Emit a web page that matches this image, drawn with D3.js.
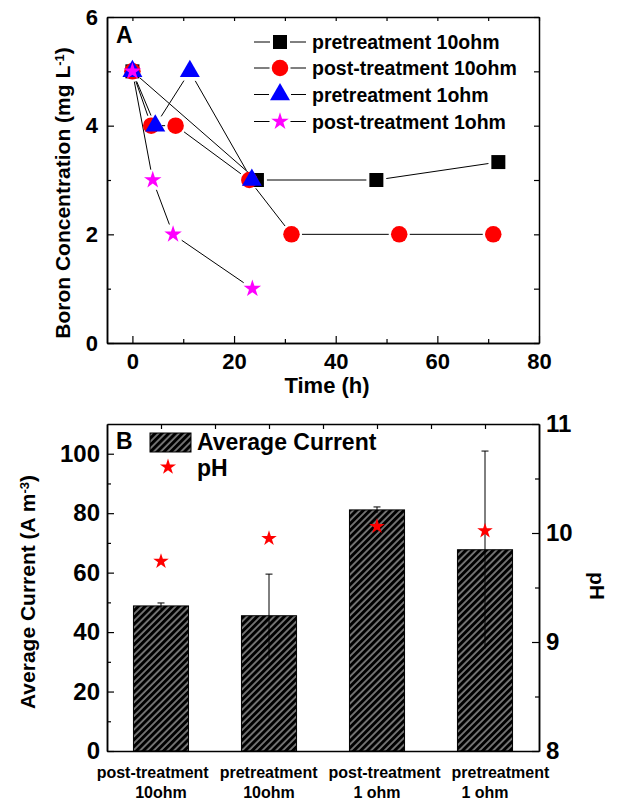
<!DOCTYPE html>
<html>
<head>
<meta charset="utf-8">
<script src="https://cdn.jsdelivr.net/npm/d3@7"></script>
<style>
  body { margin: 0; background: #fff; }
  text { font-family: "Liberation Sans", Arial, sans-serif; font-weight: bold; fill: #000; }
</style>
</head>
<body>
<div id="wrapper"></div>
<script>
// Panel A data: boron concentration over time
const seriesNames = ["pretreatment 10ohm", "post-treatment 10ohm", "pretreatment 1ohm", "post-treatment 1ohm"]
const timePre10 = [0, 24.5, 48, 72]
const boronPre10 = [5, 3, 3, 3.33]
const timePost10 = [0, 3.7, 8.5, 23, 31.3, 52.5, 71]
const boronPost10 = [5, 4, 4, 3, 2, 2, 2]
const timePre1 = [0, 4.5, 11.3, 23.5]
const boronPre1 = [5, 4, 5, 3]
const timePost1 = [0, 4, 8, 23.6]
const boronPost1 = [5, 3, 2, 1]
const timeTicks = [0, 20, 40, 60, 80]
const timeMinorTicks = [10, 30, 50, 70]
const boronTicks = [0, 2, 4, 6]
const boronMinorTicks = [1, 3, 5]

// Panel B data: average current and pH
const categoryLine1 = ["post-treatment", "pretreatment", "post-treatment", "pretreatment"]
const categoryLine2 = ["10ohm", "10ohm", "1 ohm", "1 ohm"]
const avgCurrent = [48.8, 45.5, 81.1, 67.7]
const avgCurrentErr = [1.0, 14, 1.0, 33.2]
const phValues = [9.74, 9.95, 10.06, 10.02]
const currentTicks = [0, 20, 40, 60, 80, 100]
const currentMinorTicks = [10, 30, 50, 70, 90]
const phTicks = [8, 9, 10, 11]
const phMinorTicks = [8.5, 9.5, 10.5]

function drawChart() {

  // 1. Dimensions
  const width = 619
  const height = 802
  const dimA = { left: 107, right: 539, top: 17, bottom: 343 }
  const dimB = { left: 107, right: 539, top: 424, bottom: 751 }
  const fmt = d3.format("d")

  const svg = d3.select("#wrapper")
    .append("svg")
      .attr("width", width)
      .attr("height", height)

  const defs = svg.append("defs")
  const pattern = defs.append("pattern")
      .attr("id", "hatch")
      .attr("patternUnits", "userSpaceOnUse")
      .attr("width", 4.8)
      .attr("height", 4.8)
      .attr("patternTransform", "rotate(45)")
  pattern.append("rect")
      .attr("width", 4.8)
      .attr("height", 4.8)
      .attr("fill", "#000")
  pattern.append("line")
      .attr("x1", 1).attr("y1", 0)
      .attr("x2", 1).attr("y2", 4.8)
      .attr("stroke", "#f2f2f2")
      .attr("stroke-width", 0.9)

  // 2. Panel A scales
  const xA = d3.scaleLinear().domain([-5, 80]).range([dimA.left, dimA.right])
  const yA = d3.scaleLinear().domain([0, 6]).range([dimA.bottom, dimA.top])

  const gA = svg.append("g")

  // 3. Panel A lines and markers
  const seriesA = [
    { t: timePre10, c: boronPre10, sym: d3.symbolSquare, size: 196, color: "#000000", r: 8 },
    { t: timePost10, c: boronPost10, sym: d3.symbolCircle, size: 214, color: "#ff0000", r: 8.5 },
    { t: timePre1, c: boronPre1, sym: d3.symbolTriangle, size: 173, color: "#0000ff", r: 9 },
    { t: timePost1, c: boronPost1, sym: d3.symbolStar, size: 95, color: "#ff00ff", r: 8.5 },
  ]

  function trimmedSegment(p1, p2, g1, g2) {
    const dx = p2[0] - p1[0], dy = p2[1] - p1[1]
    const len = Math.hypot(dx, dy)
    if (len <= g1 + g2) return null
    return [p1[0] + dx * g1 / len, p1[1] + dy * g1 / len, p2[0] - dx * g2 / len, p2[1] - dy * g2 / len]
  }

  seriesA.forEach(s => {
    const pts = s.t.map((t, i) => [xA(t), yA(s.c[i])])
    for (let i = 0; i < pts.length - 1; i++) {
      const seg = trimmedSegment(pts[i], pts[i + 1], s.r + 2, s.r + 2)
      if (!seg) continue
      gA.append("line")
          .attr("x1", seg[0]).attr("y1", seg[1])
          .attr("x2", seg[2]).attr("y2", seg[3])
          .attr("stroke", "#000")
          .attr("stroke-width", 1)
    }
  })

  seriesA.forEach(s => {
    gA.selectAll(null)
      .data(s.t.map((t, i) => [t, s.c[i]]))
      .join("path")
        .attr("d", d3.symbol().type(s.sym).size(s.size))
        .attr("transform", d => `translate(${xA(d[0])},${yA(d[1])})`)
        .attr("fill", s.color)
  })

  // Panel A axes, ticks inward on all four sides
  const axesA = svg.append("g")
  axesA.append("g")
      .attr("transform", `translate(0,${dimA.bottom})`)
      .call(d3.axisBottom(xA).tickValues(timeTicks).tickSizeInner(-7).tickSizeOuter(0).tickPadding(10).tickFormat(fmt))
  axesA.append("g")
      .attr("transform", `translate(0,${dimA.bottom})`)
      .call(d3.axisBottom(xA).tickValues(timeMinorTicks).tickSizeInner(-4).tickSizeOuter(0).tickFormat(""))
  axesA.append("g")
      .attr("transform", `translate(0,${dimA.top})`)
      .call(d3.axisTop(xA).tickValues(timeTicks.concat(timeMinorTicks)).tickSizeInner(-4).tickSizeOuter(0).tickFormat(""))
  axesA.append("g")
      .attr("transform", `translate(${dimA.left},0)`)
      .call(d3.axisLeft(yA).tickValues(boronTicks).tickSizeInner(-7).tickSizeOuter(0).tickPadding(9).tickFormat(fmt))
  axesA.append("g")
      .attr("transform", `translate(${dimA.left},0)`)
      .call(d3.axisLeft(yA).tickValues(boronMinorTicks).tickSizeInner(-4).tickSizeOuter(0).tickFormat(""))
  axesA.append("g")
      .attr("transform", `translate(${dimA.right},0)`)
      .call(d3.axisRight(yA).tickValues(boronTicks.concat(boronMinorTicks)).tickSizeInner(-5).tickSizeOuter(0).tickFormat(""))
  axesA.selectAll(".domain").attr("stroke", "#000").attr("stroke-width", 1.5)
  axesA.selectAll(".tick line").attr("stroke", "#000").attr("stroke-width", 1.2)
  axesA.selectAll("text").style("font-size", "22px")

  // Panel A labels
  svg.append("text")
      .attr("x", 116).attr("y", 43)
      .style("font-size", "23px")
      .text("A")

  svg.append("text")
      .attr("x", 327).attr("y", 393)
      .attr("text-anchor", "middle")
      .style("font-size", "22px")
      .text("Time (h)")

  const yTitleA = svg.append("text")
      .attr("transform", "translate(70,193) rotate(-90)")
      .attr("text-anchor", "middle")
      .style("font-size", "21px")
  yTitleA.append("tspan").text("Boron Concentration (mg L")
  yTitleA.append("tspan").attr("dy", "-0.45em").style("font-size", "13px").text("-1")
  yTitleA.append("tspan").attr("dy", "0.3em").text(")")

  // Panel A legend
  const legendRowsY = [42, 68, 94.5, 121.5]
  seriesA.forEach((s, i) => {
    const y = legendRowsY[i]
    const cx = 280
    const gap = s.r + 2
    gA.append("line")
        .attr("x1", 254).attr("x2", cx - gap)
        .attr("y1", y).attr("y2", y)
        .attr("stroke", "#000").attr("stroke-width", 1)
    gA.append("line")
        .attr("x1", cx + gap).attr("x2", 306)
        .attr("y1", y).attr("y2", y)
        .attr("stroke", "#000").attr("stroke-width", 1)
    gA.append("path")
        .attr("d", d3.symbol().type(s.sym).size(s.size))
        .attr("transform", `translate(${cx},${y})`)
        .attr("fill", s.color)
    svg.append("text")
        .attr("x", 312).attr("y", y + 7)
        .style("font-size", "19.5px")
        .text(seriesNames[i])
  })

  // 4. Panel B scales
  const xB = d3.scaleBand()
    .domain(d3.range(avgCurrent.length))
    .range([dimB.left, dimB.right])
    .paddingInner(0.49)
    .paddingOuter(0.245)
  const yB = d3.scaleLinear().domain([0, 110]).range([dimB.bottom, dimB.top])
  const yPH = d3.scaleLinear().domain([8, 11]).range([dimB.bottom, dimB.top])

  const gB = svg.append("g")

  // bars
  gB.selectAll("rect.bar")
    .data(avgCurrent)
    .join("rect")
      .attr("class", "bar")
      .attr("x", (d, i) => xB(i))
      .attr("y", d => yB(d))
      .attr("width", xB.bandwidth())
      .attr("height", d => yB(0) - yB(d))
      .attr("fill", "url(#hatch)")
      .attr("stroke", "#000")
      .attr("stroke-width", 1)

  // error bars
  avgCurrent.forEach((d, i) => {
    const cx = xB(i) + xB.bandwidth() / 2
    const e = avgCurrentErr[i]
    gB.append("line")
        .attr("x1", cx).attr("x2", cx)
        .attr("y1", yB(d - e)).attr("y2", yB(d + e))
        .attr("stroke", "#000")
        .attr("stroke-width", 1)
    gB.append("line")
        .attr("x1", cx - 3.5).attr("x2", cx + 3.5)
        .attr("y1", yB(d + e)).attr("y2", yB(d + e))
        .attr("stroke", "#000")
        .attr("stroke-width", 1)
  })

  // pH stars
  gB.selectAll("path.ph")
    .data(phValues)
    .join("path")
      .attr("class", "ph")
      .attr("d", d3.symbol().type(d3.symbolStar).size(75))
      .attr("transform", (d, i) => `translate(${xB(i) + xB.bandwidth() / 2},${yPH(d)})`)
      .attr("fill", "#ff0000")

  // Panel B axes
  const axesB = svg.append("g")
  axesB.append("g")
      .attr("transform", `translate(0,${dimB.bottom})`)
      .call(d3.axisBottom(xB).tickSize(0).tickFormat(""))
  const bandEdges = d3.range(1, avgCurrent.length).map(i => dimB.left + i * xB.step())
  const bandCenters = d3.range(avgCurrent.length).map(i => xB(i) + xB.bandwidth() / 2)
  const topScale = d3.scaleLinear().domain([dimB.left, dimB.right]).range([dimB.left, dimB.right])
  axesB.append("g")
      .attr("transform", `translate(0,${dimB.top})`)
      .call(d3.axisTop(topScale).tickValues(bandCenters.concat(bandEdges)).tickSizeInner(-5).tickSizeOuter(0).tickFormat(""))
  axesB.append("g")
      .attr("transform", `translate(${dimB.left},0)`)
      .call(d3.axisLeft(yB).tickValues(currentTicks).tickSizeInner(-7).tickSizeOuter(0).tickPadding(7).tickFormat(fmt))
  axesB.append("g")
      .attr("transform", `translate(${dimB.left},0)`)
      .call(d3.axisLeft(yB).tickValues(currentMinorTicks).tickSizeInner(-4).tickSizeOuter(0).tickFormat(""))
  axesB.append("g")
      .attr("transform", `translate(${dimB.right},0)`)
      .call(d3.axisRight(yPH).tickValues(phTicks).tickSizeInner(-7).tickSizeOuter(0).tickPadding(7).tickFormat(fmt))
  axesB.append("g")
      .attr("transform", `translate(${dimB.right},0)`)
      .call(d3.axisRight(yPH).tickValues(phMinorTicks).tickSizeInner(-4).tickSizeOuter(0).tickFormat(""))
  axesB.selectAll(".domain").attr("stroke", "#000").attr("stroke-width", 1.5)
  axesB.selectAll(".tick line").attr("stroke", "#000").attr("stroke-width", 1.2)
  axesB.selectAll("text").style("font-size", "24px")

  // category labels: first line is too wide to centre under each bar,
  // so the four words are laid out side by side, centred on the plot
  const line1 = svg.append("g").selectAll("text")
    .data(categoryLine1)
    .join("text")
      .attr("y", 778)
      .style("font-size", "16px")
      .text(d => d)
  const labelGap = 11
  const widths = line1.nodes().map(n => n.getComputedTextLength())
  const total = d3.sum(widths) + labelGap * (widths.length - 1)
  let cursor = (dimB.left + dimB.right) / 2 - total / 2
  line1.attr("x", (d, i) => {
    const x = cursor
    cursor += widths[i] + labelGap
    return x
  })

  bandCenters.forEach((cx, i) => {
    svg.append("text")
        .attr("x", cx).attr("y", 798)
        .attr("text-anchor", "middle")
        .style("font-size", "16px")
        .text(categoryLine2[i])
  })

  svg.append("text")
      .attr("x", 116).attr("y", 449)
      .style("font-size", "23px")
      .text("B")

  const yTitleB = svg.append("text")
      .attr("transform", "translate(35,592) rotate(-90)")
      .attr("text-anchor", "middle")
      .style("font-size", "21px")
  yTitleB.append("tspan").text("Average Current (A m")
  yTitleB.append("tspan").attr("dy", "-0.45em").style("font-size", "13px").text("-3")
  yTitleB.append("tspan").attr("dy", "0.3em").text(")")

  svg.append("text")
      .attr("transform", "translate(590,586) rotate(90)")
      .attr("text-anchor", "middle")
      .style("font-size", "21px")
      .text("pH")

  // Panel B legend
  svg.append("rect")
      .attr("x", 150).attr("y", 433)
      .attr("width", 41).attr("height", 19)
      .attr("fill", "url(#hatch)")
      .attr("stroke", "#000")
      .attr("stroke-width", 1)
  svg.append("text")
      .attr("x", 197).attr("y", 450)
      .style("font-size", "23px")
      .text("Average Current")
  svg.append("path")
      .attr("d", d3.symbol().type(d3.symbolStar).size(80))
      .attr("transform", "translate(168,467)")
      .attr("fill", "#ff0000")
  svg.append("text")
      .attr("x", 197).attr("y", 476)
      .style("font-size", "23px")
      .text("pH")
}

drawChart()
</script>
</body>
</html>
